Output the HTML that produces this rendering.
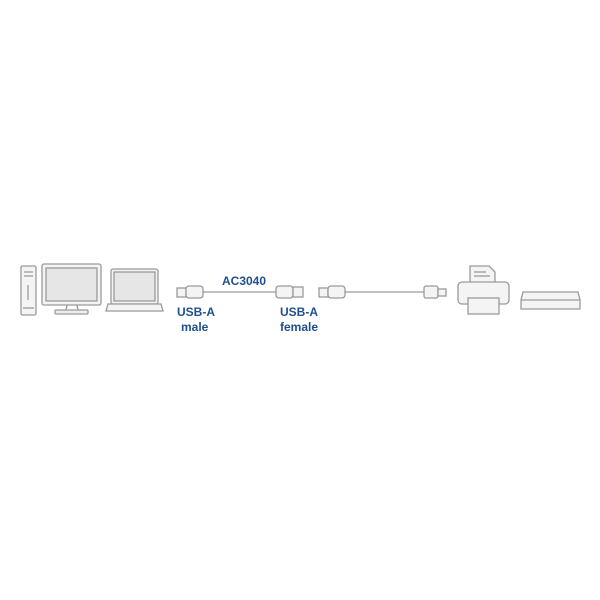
<!DOCTYPE html>
<html><head><style>
html,body{margin:0;padding:0;background:#fff;}
svg{display:block}
text{font-family:"Liberation Sans",sans-serif;font-weight:bold;fill:#1f4f8f;font-size:12px}
</style></head><body>
<svg width="600" height="600" viewBox="0 0 600 600">
<rect width="600" height="600" fill="#fff"/>
<g fill="none" stroke="#9a9a9a" stroke-width="1.3">
<!-- tower -->
<rect x="21" y="266" width="15" height="49" rx="1.5" fill="#f4f4f4"/>
<line x1="24" y1="272" x2="33" y2="272"/><line x1="24" y1="276" x2="33" y2="276"/>
<line x1="28" y1="285" x2="28" y2="300"/>
<line x1="23" y1="308" x2="34" y2="308"/>
<!-- monitor -->
<rect x="42" y="264" width="59" height="41" rx="2" fill="#f4f4f4"/>
<rect x="46" y="268" width="51" height="33" fill="#e6e6e6"/>
<path d="M67 305 L66 310 M77 305 L78 310"/>
<rect x="55" y="310" width="33" height="4" rx="1" fill="#eee"/>
<!-- laptop -->
<rect x="111" y="269" width="47" height="35" rx="2" fill="#f4f4f4"/>
<rect x="114" y="272" width="41" height="29" fill="#e6e6e6"/>
<path d="M108 304 L161 304 L163 311 L106 311 Z" fill="#f4f4f4"/>
<!-- cable 1 -->
<rect x="177" y="288" width="9" height="9" fill="#f4f4f4"/>
<rect x="186" y="286" width="17" height="12" rx="3" fill="#f4f4f4"/>
<line x1="203" y1="292" x2="276" y2="292"/>
<rect x="276" y="286" width="17" height="12" rx="3" fill="#f4f4f4"/>
<rect x="293" y="287" width="10" height="10" fill="#f4f4f4"/>
<!-- cable 2 -->
<rect x="319" y="288" width="9" height="9" fill="#f4f4f4"/>
<rect x="328" y="286" width="17" height="12" rx="3" fill="#f4f4f4"/>
<line x1="345" y1="292" x2="424" y2="292"/>
<rect x="424" y="286" width="14" height="12" rx="2" fill="#f4f4f4"/>
<rect x="438" y="289" width="8" height="7" fill="#f4f4f4"/>
<!-- printer -->
<path d="M470 282 L470 266 L489 266 L495 272 L495 282" fill="#f4f4f4"/>
<line x1="474" y1="272" x2="486" y2="272"/><line x1="474" y1="276" x2="490" y2="276"/>
<rect x="458" y="282" width="51" height="22" rx="4" fill="#f4f4f4"/>
<rect x="468" y="298" width="31" height="16" fill="#f4f4f4"/>
<!-- box -->
<path d="M523 292 L578 292 L580 300 L580 309 L521 309 L521 300 Z" fill="#f4f4f4"/>
<line x1="521" y1="300" x2="580" y2="300"/>
</g>
<text x="222" y="285">AC3040</text>
<text x="177" y="316">USB-A</text>
<text x="181" y="331">male</text>
<text x="280" y="316">USB-A</text>
<text x="280" y="331">female</text>
</svg>
</body></html>
